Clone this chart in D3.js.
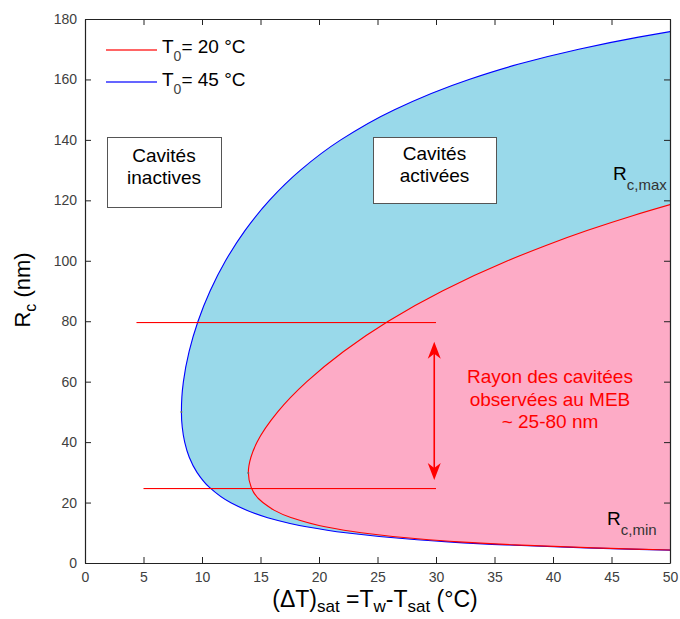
<!DOCTYPE html>
<html><head><meta charset="utf-8">
<script src="https://cdn.jsdelivr.net/npm/d3@7/dist/d3.min.js"></script>
<style>
html,body{margin:0;padding:0;background:#fff;}
svg{display:block;font-family:"Liberation Sans",Arial,sans-serif;}
</style></head>
<body><svg id="c" width="680" height="619"></svg>
<script>
// ---- data ----
const xTicks = [0,5,10,15,20,25,30,35,40,45,50];
const yTicks = [0,20,40,60,80,100,120,140,160,180];
// T0 = 45 °C curve (blue): radius Rc (nm) and matching superheat ΔT (°C),
// from the Rc,min branch (bottom right) through the vertex to the Rc,max branch (top right)
const blueR  = [4.25,4.6,5,6,7,8,10,12,15,20,25,30,35,40,45,50,55,60,70,80,90,100,110,120,130,140,150,160,165,170,174,176];
const blueDT = [50.13,46.43,42.83,35.94,31.04,27.38,22.28,18.92,15.61,12.43,10.64,9.57,8.91,8.52,8.31,8.24,8.28,8.41,8.90,9.66,10.69,12.01,13.67,15.76,18.42,21.86,26.45,32.82,37.01,42.20,47.31,50.28];
// T0 = 20 °C curve (red)
const redR  = [4.3,4.6,5,6,7,8,10,12,15,20,25,30,35,40,50,60,70,80,90,100,105,110,115,119];
const redDT = [50.13,47.03,43.48,36.73,31.96,28.43,23.61,20.52,17.65,15.20,14.21,13.96,14.18,14.71,16.47,18.96,22.10,25.92,30.54,36.12,39.34,42.91,46.88,50.38];
const seriesNames = ["T0= 20 °C","T0= 45 °C"];
const refLevels = [80,25];           // observed cavity radius band (nm)
const refStart = [4.4,5.0];          // ΔT where reference lines start
const refEnd = 30;
const arrowDT = 29.85, arrowTop = 73.2, arrowBottom = 27.5;
const vertices = [[8.24,50],[13.96,29.8]];

// ---- setup ----
const svg = d3.select("#c");
const x = d3.scaleLinear().domain([0,50]).range([85,670]);
const y = d3.scaleLinear().domain([0,180]).range([563,19]);
const F = '"Liberation Sans",Arial,sans-serif';

svg.append("defs").append("clipPath").attr("id","clip")
  .append("rect").attr("x",85).attr("y",19).attr("width",585).attr("height",544);

const line = d3.line().x(d=>x(d[0])).y(d=>y(d[1])).curve(d3.curveMonotoneY);
const bluePts = blueR.map((r,i)=>[blueDT[i],r]);
const redPts = redR.map((r,i)=>[redDT[i],r]);

const g = svg.append("g").attr("clip-path","url(#clip)");
g.append("path").attr("d", line(bluePts)+"Z").attr("fill","#99D9EA").attr("stroke","none");
g.append("path").attr("d", line(redPts)+"Z").attr("fill","#FDABC6").attr("stroke","none");
g.append("path").attr("d", line(bluePts)).attr("fill","none").attr("stroke","#0000FF").attr("stroke-width",1.1);
g.append("path").attr("d", line(redPts)).attr("fill","none").attr("stroke","#FF0000").attr("stroke-width",1.1);
vertices.forEach(v=>g.append("circle").attr("cx",x(v[0])).attr("cy",y(v[1])).attr("r",1).attr("fill","#666"));

// reference lines (drawn as thin filled bands)
const ann = svg.append("g");
refLevels.forEach((lv,i)=>{
  const yy = Math.round(y(lv)+0.5);
  ann.append("rect").attr("x",x(refStart[i])).attr("width",x(refEnd)-x(refStart[i]))
    .attr("y",yy).attr("height",1.1).attr("fill","#FF0000");
});

// double arrow
const ax = x(arrowDT), at = y(arrowTop), ab = y(arrowBottom);
ann.append("rect").attr("x",ax-0.8).attr("width",1.6).attr("y",at+8).attr("height",ab-at-16)
  .attr("fill","#FF0000");
const head = (tx,ty,dir)=>`M${tx},${ty} L${tx-6.5},${ty+dir*17} L${tx},${ty+dir*12} L${tx+6.5},${ty+dir*17} Z`;
ann.append("path").attr("d",head(ax,at,1)).attr("fill","#FF0000");
ann.append("path").attr("d",head(ax,ab,-1)).attr("fill","#FF0000");

// axes
const axG = svg.append("g").attr("font-family",F);
const xb = axG.append("g").attr("transform","translate(0,563)")
  .call(d3.axisBottom(x).tickValues(xTicks).tickSize(-6).tickSizeOuter(0).tickPadding(9).tickFormat(d3.format("d")));
const xt = axG.append("g").attr("transform","translate(0,19)")
  .call(d3.axisTop(x).tickValues(xTicks).tickSize(-6).tickSizeOuter(0).tickFormat(""));
const yl = axG.append("g").attr("transform","translate(85,0)")
  .call(d3.axisLeft(y).tickValues(yTicks).tickSize(-6).tickSizeOuter(0).tickPadding(8).tickFormat(d3.format("d")));
const yr = axG.append("g").attr("transform","translate(670,0)")
  .call(d3.axisRight(y).tickValues(yTicks).tickSize(-6).tickSizeOuter(0).tickFormat(""));
[xb,xt,yl,yr].forEach(a=>{
  a.select(".domain").attr("stroke","#222").attr("stroke-width",1.2);
  a.selectAll(".tick line").attr("stroke","#222");
  a.selectAll(".tick text").attr("fill","#404040").attr("font-size",14);
});

// axis labels
const xl = svg.append("text").attr("x",375).attr("y",607).attr("text-anchor","middle")
  .attr("font-size",23).attr("fill","#000");
xl.append("tspan").text("(ΔT)");
xl.append("tspan").attr("dy",5).attr("font-size",17).text("sat");
xl.append("tspan").attr("dy",-5).text(" =T");
xl.append("tspan").attr("dy",5).attr("font-size",17).text("w");
xl.append("tspan").attr("dy",-5).text("-T");
xl.append("tspan").attr("dy",5).attr("font-size",17).text("sat");
xl.append("tspan").attr("dy",-5).text(" (°C)");

const ylab = svg.append("text").attr("transform","translate(30,290) rotate(-90)")
  .attr("text-anchor","middle").attr("font-size",22).attr("fill","#000");
ylab.append("tspan").text("R");
ylab.append("tspan").attr("dy",6).attr("font-size",16).text("c");
ylab.append("tspan").attr("dy",-6).text(" (nm)");

// legend
const colors = ["#FF0000","#0000FF"];
const lg = svg.append("g");
seriesNames.forEach((s,i)=>{
  const ly = [50,82][i], tb=[53,86][i];
  lg.append("rect").attr("x",106).attr("width",51).attr("y",ly-0.6).attr("height",1.2).attr("fill",colors[i]);
  const t = lg.append("text").attr("x",162).attr("y",tb).attr("font-size",19).attr("fill","#000");
  t.append("tspan").text("T");
  t.append("tspan").attr("dy",8).attr("font-size",14).attr("fill","#444").text("0");
  t.append("tspan").attr("dy",-8).text(s.slice(2));
});

// boxes
function box(x0,y0,w,h,lines,bases){
  svg.append("rect").attr("x",x0+0.5).attr("y",y0+0.5).attr("width",w).attr("height",h)
    .attr("fill","#fff").attr("stroke","#555").attr("stroke-width",1);
  lines.forEach((l,i)=>svg.append("text").attr("x",x0+w/2).attr("y",bases[i]).attr("text-anchor","middle")
    .attr("font-size",19).attr("fill","#000").text(l));
}
box(107,137,114,70,["Cavités","inactives"],[162,184]);
box(373,137,123,66,["Cavités","activées"],[160,182]);

// red annotation
["Rayon des cavitées","observées au MEB","~ 25-80 nm"].forEach((l,i)=>
  svg.append("text").attr("x",550).attr("y",383+i*22.5).attr("text-anchor","middle")
    .attr("font-size",19).attr("fill","#FF0000").text(l));

// Rc,max / Rc,min labels
function rlab(xx,yy,sub){
  const t = svg.append("text").attr("x",xx).attr("y",yy).attr("font-size",19).attr("fill","#000");
  t.append("tspan").text("R");
  t.append("tspan").attr("dy",10).attr("font-size",15).attr("fill","#333").text(sub);
}
rlab(613,180,"c,max");
rlab(607,525,"c,min");
</script></body></html>
